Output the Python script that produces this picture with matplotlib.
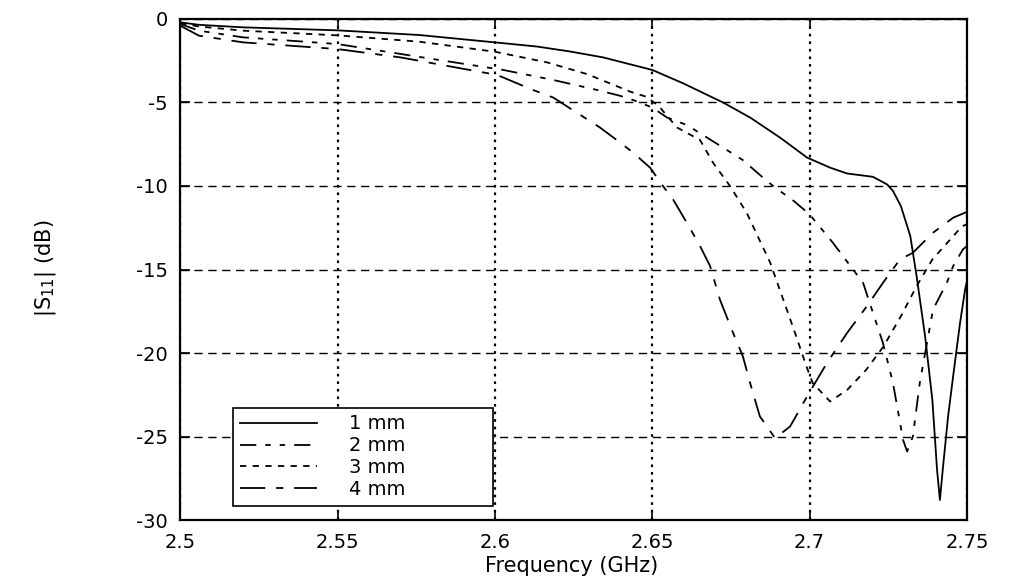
import numpy as np
import matplotlib
matplotlib.use('Agg')
import matplotlib.pyplot as plt

plt.rcParams['font.family'] = ['DejaVu Sans']
plt.rcParams['axes.unicode_minus'] = False

# |S11| (dB), one curve per slot width
f_1mm = [2.500, 2.506, 2.520, 2.550, 2.576, 2.600, 2.6134, 2.624, 2.6344, 2.650, 2.6598, 2.6725,
         2.6811, 2.6906, 2.6992, 2.7065, 2.7119, 2.7201, 2.7246, 2.7265, 2.729, 2.732, 2.734,
         2.7367, 2.739, 2.7405, 2.7414, 2.7424, 2.744, 2.7456, 2.7478, 2.7494, 2.750]
s_1mm = [-0.2, -0.35, -0.5, -0.68, -0.96, -1.4, -1.65, -1.95, -2.3, -3.05, -3.85, -5.0,
         -5.9, -7.1, -8.3, -8.9, -9.25, -9.45, -9.9, -10.3, -11.2, -13.0, -15.4,
         -19.0, -22.8, -27.0, -28.8, -26.8, -23.8, -21.4, -18.2, -16.2, -15.7]

f_2mm = [2.500, 2.506, 2.520, 2.550, 2.5804, 2.6026, 2.6185, 2.6325, 2.6398, 2.6439, 2.650,
         2.6547, 2.661, 2.6725, 2.6788, 2.6852, 2.6884, 2.695, 2.700, 2.7074, 2.717, 2.7233,
         2.7265, 2.7297, 2.731, 2.7328, 2.735, 2.7392, 2.7436, 2.7456, 2.7487, 2.750]
s_2mm = [-0.3, -0.7, -1.1, -1.5, -2.4, -3.05, -3.65, -4.25, -4.6, -4.85, -5.3,
         -5.9, -6.35, -7.7, -8.45, -9.5, -10.0, -10.9, -11.7, -13.4, -15.8, -19.4,
         -21.8, -25.2, -25.9, -25.0, -21.8, -17.4, -15.8, -14.8, -13.8, -13.6]

f_3mm = [2.500, 2.506, 2.520, 2.550, 2.576, 2.600, 2.6166, 2.6293, 2.643, 2.648, 2.652, 2.6579,
         2.6652, 2.6693, 2.6747, 2.680, 2.6875, 2.6905, 2.695, 2.699, 2.701, 2.7065, 2.712,
         2.718, 2.7235, 2.729, 2.734, 2.739, 2.7485, 2.750]
s_3mm = [-0.25, -0.45, -0.7, -0.98, -1.36, -1.96, -2.6, -3.3, -4.35, -4.65, -5.2, -6.5,
         -7.25, -8.6, -10.0, -11.6, -14.6, -16.2, -18.6, -20.8, -21.8, -22.9, -22.2,
         -21.0, -19.6, -17.8, -16.0, -14.4, -12.4, -12.3]

f_4mm = [2.500, 2.506, 2.520, 2.550, 2.570, 2.6007, 2.6121, 2.6185, 2.6334, 2.6398, 2.6439,
         2.6493, 2.6534, 2.6566, 2.661, 2.6652, 2.6684, 2.6715, 2.6757, 2.6788, 2.6811,
         2.6842, 2.6865, 2.689, 2.6938, 2.6992, 2.7055, 2.7119, 2.7182, 2.7233, 2.7287,
         2.7328, 2.7392, 2.7456, 2.750]
s_4mm = [-0.4, -1.0, -1.4, -1.8, -2.3, -3.35, -4.25, -4.7, -6.5, -7.4, -8.0,
         -8.9, -10.0, -10.8, -12.2, -13.6, -14.8, -16.8, -18.8, -20.2, -21.8,
         -23.8, -24.4, -25.1, -24.4, -22.6, -20.6, -18.8, -17.2, -15.8, -14.4,
         -14.0, -12.8, -11.9, -11.55]

labels = ['1 mm', '2 mm', '3 mm', '4 mm']
xticks = [2.5, 2.55, 2.6, 2.65, 2.7, 2.75]
xtick_labels = ['2.5', '2.55', '2.6', '2.65', '2.7', '2.75']
yticks = [0, -5, -10, -15, -20, -25, -30]

fig = plt.figure(figsize=(10.12, 5.86), dpi=100)
ax = fig.add_axes([0.178, 0.1126, 0.7775, 0.855])

ax.plot(f_1mm, s_1mm, color='black', lw=1.3, ls='-', label=labels[0])
ax.plot(f_2mm, s_2mm, color='black', lw=1.3, ls=(0, (9, 5, 3, 5, 3, 5)), label=labels[1])
ax.plot(f_3mm, s_3mm, color='black', lw=1.3, ls=(0, (3.5, 3.5)), label=labels[2])
ax.plot(f_4mm, s_4mm, color='black', lw=1.3, ls=(0, (14, 6, 4, 6)), label=labels[3])

ax.set_xlim(2.5, 2.75)
ax.set_ylim(-30, 0)
ax.set_xticks(xticks)
ax.set_xticklabels(xtick_labels)
ax.set_yticks(yticks)

# matlab-ish grid: dotted verticals, dashed horizontals
ax.xaxis.grid(True, color='black', ls=(0, (1.2, 2.2)), lw=1.6)
ax.yaxis.grid(True, color='black', ls=(0, (6, 4)), lw=1.0)
ax.set_axisbelow(False)

ax.tick_params(direction='in', length=7, width=1.2, top=True, right=True,
               labelsize=14, pad=9, colors='black')
for s in ax.spines.values():
    s.set_linewidth(1.6)

ax.set_xlabel('Frequency (GHz)', fontsize=15)
ax.xaxis.set_label_coords(0.498, -0.072)
ax.set_ylabel(r'|S$_{11}$| (dB)', fontsize=15)
ax.yaxis.set_label_coords(-0.155, 0.503)

leg = ax.legend(loc='lower left', bbox_to_anchor=(0.067, 0.028, 0.33, 0.2), mode='expand',
                fontsize=14, frameon=True, fancybox=False, framealpha=1, edgecolor='black',
                handlelength=4.0, handletextpad=1.6, borderpad=0.35, labelspacing=0.15,
                borderaxespad=0)
leg.get_frame().set_linewidth(1.2)

fig.savefig('out.png', dpi=100)
